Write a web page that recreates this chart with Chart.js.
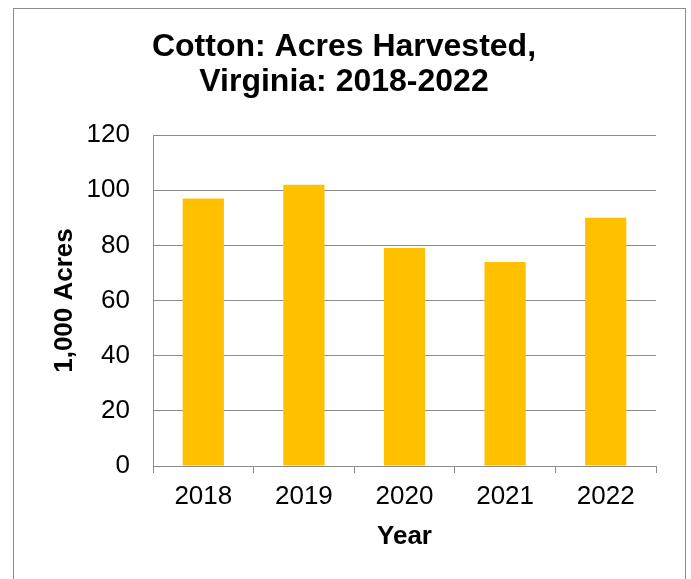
<!DOCTYPE html>
<html>
<head>
<meta charset="utf-8">
<script src="https://cdn.jsdelivr.net/npm/chart.js@4.4.0/dist/chart.umd.min.js"></script>
<style>
    html, body { margin: 0; padding: 0; background: #fff; overflow: hidden; }
    #wrap { position: relative; width: 691px; height: 579px; }
    #frame { position: absolute; left: 13px; top: 8px; width: 671px; height: 620px; border: 1px solid #8c8c8c; }
    canvas { position: absolute; left: 0; top: 0; }
</style>
</head>
<body>
<div id="wrap">
    <div id="frame"></div>
    <canvas id="chartCotton" width="691" height="579"></canvas>
</div>
<script>
// Cotton acres harvested in Virginia, thousands of acres
const years = ['2018', '2019', '2020', '2021', '2022'];
const acresHarvested = [97, 102, 79, 74, 90];
const yTicks = [0, 20, 40, 60, 80, 100, 120];

const titleLines = ['Cotton: Acres Harvested,', 'Virginia: 2018-2022'];
const gridGrey = '#8c8c8c';

Chart.defaults.font.family = '"Liberation Sans", Arial, sans-serif';
Chart.defaults.color = '#000';

const ctx = document.getElementById('chartCotton').getContext('2d');
new Chart(ctx, {
    type: 'bar',
    data: {
        labels: years,
        datasets: [{
            label: 'Acres Harvested',
            data: acresHarvested,
            backgroundColor: '#FFC000',
            borderWidth: 0,
            categoryPercentage: 1,
            barPercentage: 0.41
        }]
    },
    options: {
        responsive: false,
        animation: false,
        devicePixelRatio: 1,
        layout: {
            // left padding shifts the title centre, right one fixes the plot edge
            padding: { left: 32, right: 35, top: 0, bottom: 0 }
        },
        plugins: {
            legend: { display: false },
            tooltip: { enabled: false },
            title: {
                display: true,
                text: titleLines,
                color: '#000',
                font: { size: 32, weight: 'bold', lineHeight: 35 / 32 },
                padding: { top: 30, bottom: 35 }
            }
        },
        scales: {
            y: {
                min: 0,
                max: 120,
                afterBuildTicks: function(axis) {
                    axis.ticks = yTicks.map(v => ({ value: v }));
                },
                afterFit: function(axis) {
                    axis.width = 121;
                },
                grid: {
                    color: gridGrey,
                    lineWidth: 1,
                    drawTicks: false
                },
                border: { color: gridGrey, width: 1 },
                ticks: {
                    padding: 23,
                    font: { size: 26 },
                    color: '#000'
                },
                title: {
                    display: true,
                    text: '1,000 Acres',
                    color: '#000',
                    font: { size: 26, weight: 'bold', lineHeight: 1.2 },
                    padding: { top: 17, bottom: 0 }
                }
            },
            x: {
                afterFit: function(axis) {
                    axis.height = 113;
                },
                grid: {
                    drawOnChartArea: false,
                    drawTicks: true,
                    tickLength: 7,
                    color: gridGrey,
                    lineWidth: 1
                },
                border: { color: gridGrey, width: 1 },
                ticks: {
                    padding: 8,
                    font: { size: 26 },
                    color: '#000',
                    maxRotation: 0
                },
                title: {
                    display: true,
                    text: 'Year',
                    color: '#000',
                    font: { size: 26, weight: 'bold', lineHeight: 1.2 },
                    padding: { top: 0, bottom: 27 }
                }
            }
        }
    }
});
</script>
</body>
</html>
